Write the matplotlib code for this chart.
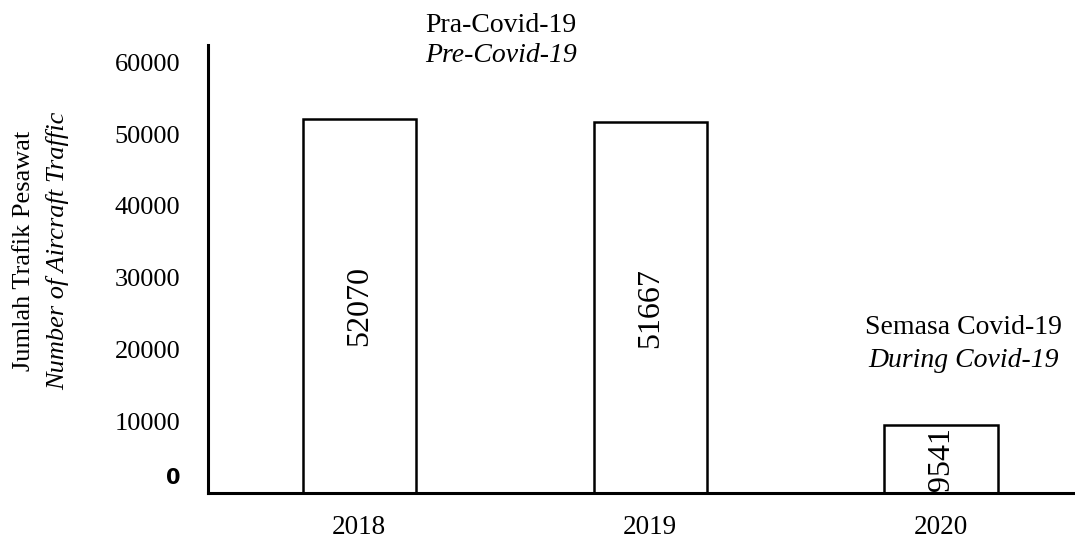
import matplotlib.pyplot as plt
from matplotlib.transforms import ScaledTranslation

# Data
years = ["2018", "2019", "2020"]
traffic = [52070, 51667, 9541]
yticks = [0, 10000, 20000, 30000, 40000, 50000, 60000]

plt.rcParams['font.family'] = ['Liberation Serif', 'DejaVu Serif']

fig = plt.figure(figsize=(10.75, 5.45), dpi=100)
ax = fig.add_axes([0.1935, 0.0954, 0.8065, 0.8216])

x = range(len(years))
bars = ax.bar(x, traffic, width=0.39, color="white", edgecolor="black", linewidth=1.8)

for xi, v in zip(x, traffic):
    ax.text(xi, v / 2, str(v), rotation=90, ha="center", va="center", fontsize=23)

ax.set_xlim(-0.52, 2.46)
ax.set_ylim(0, 62400)
ax.set_xticks(list(x))
ax.set_xticklabels(years, fontsize=19.5)
ax.set_yticks(yticks)
ax.set_yticklabels([str(t) for t in yticks], fontsize=19)
ax.tick_params(axis="both", length=0)
ax.tick_params(axis="y", pad=20)
ax.tick_params(axis="x", pad=16)

# the zero label is a bold sans font in the original, sitting a bit higher
zero = ax.get_yticklabels()[0]
zero.set_fontfamily("DejaVu Sans")
zero.set_fontweight("bold")
zero.set_fontsize(15)
zero.set_transform(zero.get_transform() + ScaledTranslation(0, 12 / 72, fig.dpi_scale_trans))

for s in ["top", "right"]:
    ax.spines[s].set_visible(False)
ax.spines["left"].set_linewidth(2.2)
ax.spines["bottom"].set_linewidth(2.2)

# axis label, two lines (Malay / English)
fig.text(0.022, 0.54, "Jumlah Trafik Pesawat", rotation=90, ha="center", va="center", fontsize=19)
fig.text(0.054, 0.54, "Number of Aircraft Traffic", rotation=90, ha="center", va="center",
         fontsize=19, style="italic")

# period annotations
ax.text(0.487, 1.045, "Pra-Covid-19", transform=ax.get_xaxis_transform(), ha="center", va="center", fontsize=20)
ax.text(0.487, 0.978, "Pre-Covid-19", transform=ax.get_xaxis_transform(), ha="center", va="center",
        fontsize=20, style="italic")
ax.text(2.076, 23100, "Semasa Covid-19", ha="center", va="center", fontsize=20)
ax.text(2.076, 18500, "During Covid-19", ha="center", va="center", fontsize=20, style="italic")

fig.savefig("out.png", dpi=100)
